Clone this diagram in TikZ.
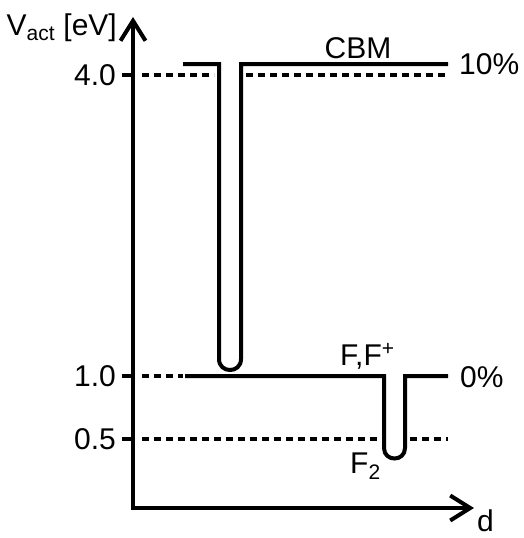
\documentclass[tikz,border=0pt]{standalone}
\usepackage{fontspec}
\setmainfont{Liberation Sans}
\usepackage{tikz}
\usetikzlibrary{arrows.meta}
\tikzset{
	lvl/.style = {line width = 4pt},
	ref/.style = {line width = 3.6pt, dash pattern = on 7pt off 5pt},
	lab/.style = {font = \fontsize{30}{33}\selectfont, inner sep = 0pt},
	barb/.tip = {Straight Barb[length = 20pt, width = 25pt]}
}
\begin{document}
\begin{tikzpicture} [x = 1pt, y = -1pt]
	\useasboundingbox (0,0) rectangle (523,538);
	\coordinate (O) at (133,508);
	\coordinate (ytop) at (133,17);
	\coordinate (xend) at (474,508);
	\draw [lvl, barb-barb] (ytop) -- (O) -- (xend);
	\node [lab, anchor = base east] (vact) at (117,35) {V\textsubscript{act} [eV]};
	\node [lab, anchor = base west] (dlab) at (477,531) {d};
	% ticks
	\draw [lvl] (122,75) -- (133,75);
	\draw [lvl] (122,376) -- (133,376);
	\draw [lvl] (122,439) -- (133,439);
	\node [lab, anchor = east] (tfour) at (116,75) {4.0};
	\node [lab, anchor = east] (tone) at (116,376) {1.0};
	\node [lab, anchor = east] (thalf) at (116,439) {0.5};
	% reference levels
	\draw [ref] (142,75) -- (214,75);
	\draw [ref] (246,75) -- (448,75);
	\draw [ref] (142,376) -- (183,376);
	\draw [ref] (142,439) -- (379,439);
	\draw [ref] (410,439) -- (448,439);
	% CBM with deep well
	\draw [lvl] (183,64) -- (219,64) -- (219,359) .. controls (219,373.7) and (241,373.7) .. (241,359) -- (241,64) -- (448,64);
	\node [lab, anchor = base] (cbm) at (358,58) {CBM};
	\node [lab, anchor = west] (ten) at (459,64) {10\%};
	% F level with F2 well
	\draw [lvl] (185,376) -- (384,376) -- (384,448) .. controls (384,462) and (405,462) .. (405,448) -- (405,376) -- (448,376);
	\node [lab, anchor = base west] (ff) at (340,365) {F,F\textsuperscript{+}};
	\node [lab, anchor = west] (zero) at (460,377) {0\%};
	\node [lab, anchor = base west] (ftwo) at (350,473) {F\textsubscript{2}};
\end{tikzpicture}
\end{document}
